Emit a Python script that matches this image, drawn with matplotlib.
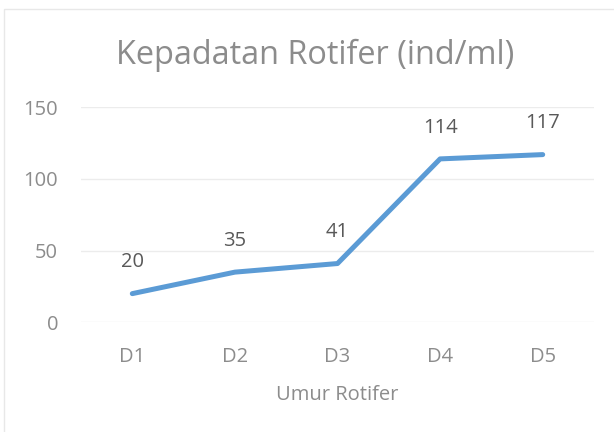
import matplotlib
matplotlib.use("Agg")
import matplotlib.pyplot as plt
from matplotlib.patches import Rectangle

categories = ["D1", "D2", "D3", "D4", "D5"]
values = [20, 35, 41, 114, 117]
yticks = [0, 50, 100, 150]
title = "Kepadatan Rotifer (ind/ml)"
xlabel = "Umur Rotifer"

plt.rcParams['font.family'] = ['Open Sans', 'DejaVu Sans']

fig = plt.figure(figsize=(6.14, 4.32), dpi=100)
fig.patch.set_facecolor("white")
ax = fig.add_axes([81/614, 1-322.3/432, (594-81)/614, (322.3-107.3)/432])

x = list(range(len(categories)))
ax.plot(x, values, color="#5B9BD5", lw=3.6, solid_capstyle="round", solid_joinstyle="round", zorder=3)
for xi, v in zip(x, values):
    ax.annotate(str(v), (xi, v), xytext=(0, 22.5), textcoords="offset points",
                ha="center", va="center", fontsize=14.5, color="#595959")

ax.set_xlim(-0.5, len(categories)-0.5)
ax.set_ylim(0, 150)
ax.set_yticks(yticks)
ax.set_xticks(x)
ax.set_xticklabels(categories)
ax.tick_params(axis="both", length=0, labelsize=14.5, labelcolor="#8c8c8c")
ax.tick_params(axis="y", pad=16.5)
ax.tick_params(axis="x", pad=18)
for s in ax.spines.values():
    s.set_visible(False)
ax.grid(axis="y", color="#ececec", lw=1)
ax.set_axisbelow(True)
ax.set_xlabel(xlabel, fontsize=14.5, color="#8c8c8c", labelpad=13)
fig.text((116+515)/2/614, 1-64/432, title, ha="center", va="baseline", fontsize=23.4, color="#8c8c8c")

fig.patches.append(Rectangle((4/614, -0.1), 1.2, 1-9/432+0.1, transform=fig.transFigure,
                             fill=False, edgecolor="#e8e8e8", lw=1))
fig.savefig("out.png", dpi=100)
